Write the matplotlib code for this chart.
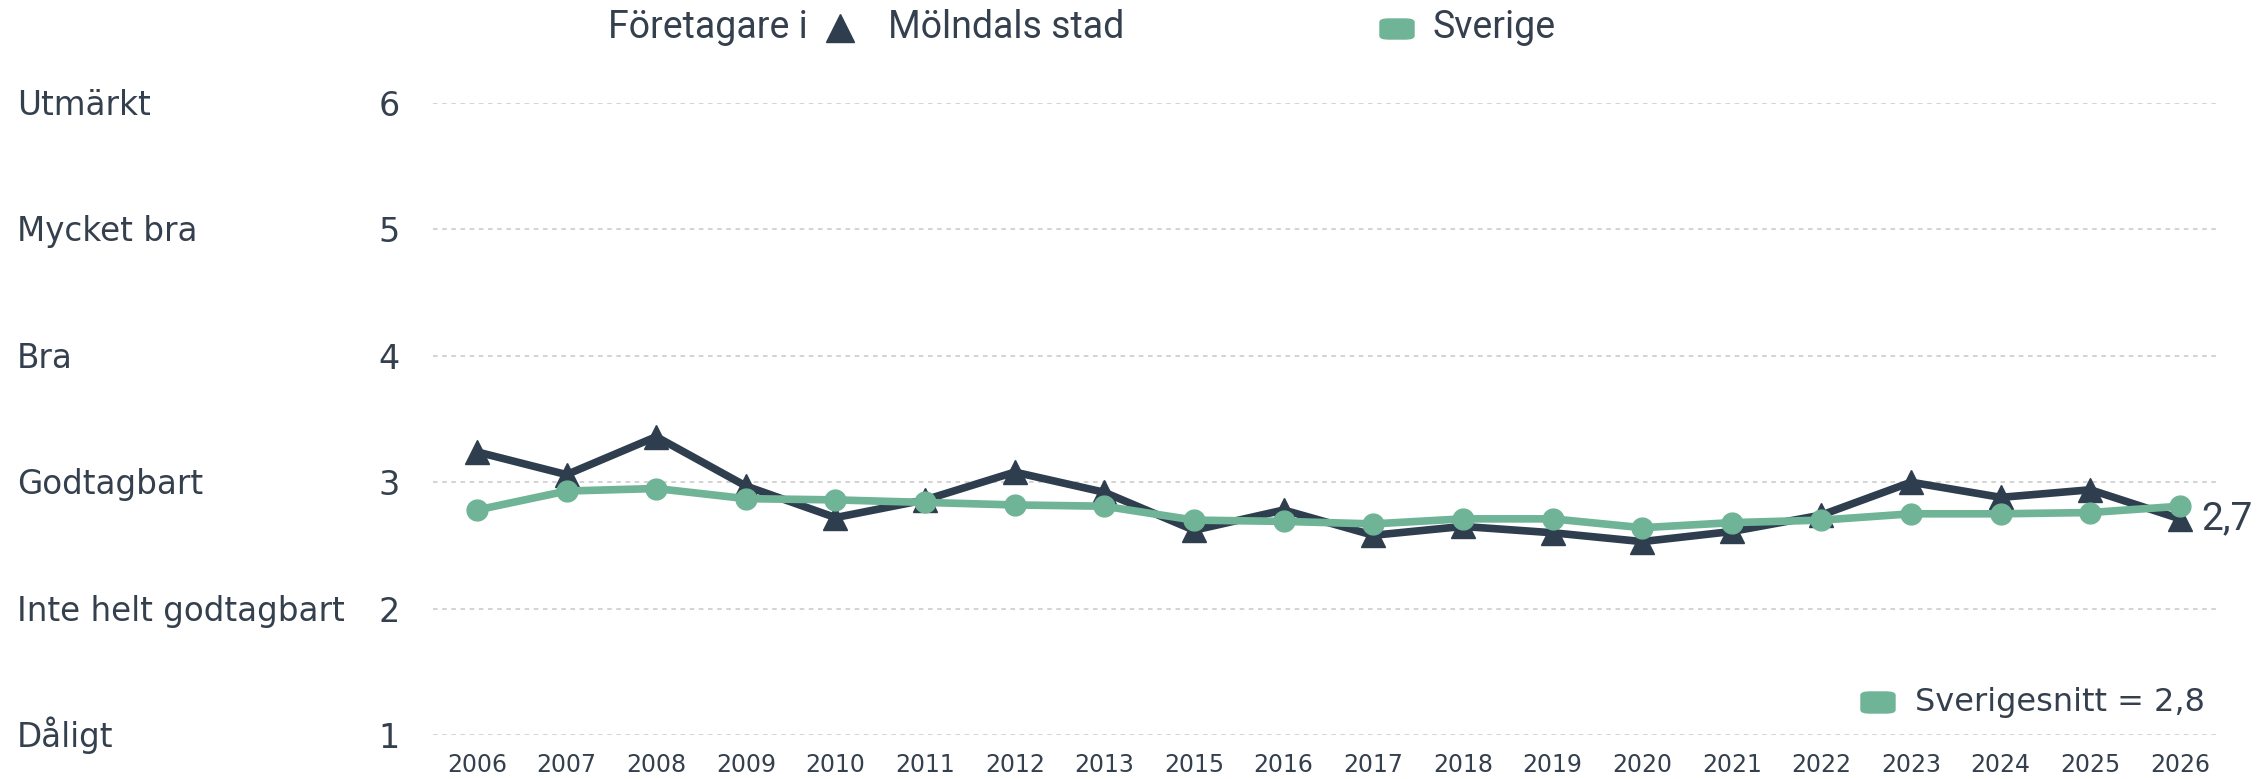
import matplotlib
matplotlib.use("Agg")
from matplotlib import pyplot as plt
from matplotlib import transforms
from matplotlib.patches import FancyBboxPatch
import numpy as np

years = ["2006", "2007", "2008", "2009", "2010", "2011", "2012", "2013", "2015", "2016",
         "2017", "2018", "2019", "2020", "2021", "2022", "2023", "2024", "2025", "2026"]
molndal = [3.24, 3.06, 3.36, 2.97, 2.72, 2.86, 3.08, 2.92, 2.62, 2.78,
           2.58, 2.65, 2.60, 2.53, 2.61, 2.74, 3.00, 2.88, 2.94, 2.71]
sverige = [2.78, 2.93, 2.95, 2.87, 2.86, 2.84, 2.82, 2.81, 2.70, 2.69,
           2.67, 2.71, 2.71, 2.64, 2.68, 2.70, 2.75, 2.75, 2.76, 2.81]
levels = [1, 2, 3, 4, 5, 6]
level_names = ["Dåligt", "Inte helt godtagbart", "Godtagbart", "Bra", "Mycket bra", "Utmärkt"]
last_label = "2,7"
avg_label = "Sverigesnitt = 2,8"

dark = "#2f3e4e"
green = "#6fb496"
txt = "#35404f"

W, H = 2262, 779
fig = plt.figure(figsize=(W / 100, H / 100), dpi=100)
ax = fig.add_axes([433 / W, 1 - 735 / H, (2219 - 433) / W, (735 - 103) / H])

x = np.arange(len(years))
ax.plot(x, molndal, color=dark, lw=5.5, marker="^", ms=17, zorder=3, clip_on=False)
ax.plot(x, sverige, color=green, lw=5.5, marker="o", ms=15, zorder=4, clip_on=False)

ax.set_xlim(-0.49, 19.435)
ax.set_ylim(1, 6)
for v in levels:
    ax.axhline(v, color="#c8c8c8", lw=1.1, ls=(0, (3, 3)), zorder=1)

for s in ax.spines.values():
    s.set_visible(False)

ax.set_xticks(x)
ax.set_xticklabels(years, fontsize=17, color=txt)
ax.set_yticks(levels)
ax.set_yticklabels([str(v) for v in levels], fontsize=24, color=txt)
ax.tick_params(axis="x", length=0, pad=13)
ax.tick_params(axis="y", length=0, pad=24)

# category names on the left, baseline a bit below each gridline
tr = transforms.blended_transform_factory(fig.transFigure, ax.transData)
tr = tr + transforms.ScaledTranslation(0, -12 / 100, fig.dpi_scale_trans)
for v, name in zip(levels, level_names):
    ax.text(17 / W, v, name, transform=tr, fontsize=23.5, color=txt, va="baseline", ha="left")

# value label at the end of the line
ax.annotate(last_label, (x[-1], molndal[-1]), xytext=(15, 0), textcoords="offset points",
            fontsize=28, color=txt, va="center", ha="left", family=["Roboto", "DejaVu Sans"])

# top legend
ly = 1 - 28 / H
fig.text(608 / W, ly, "Företagare i", fontsize=27, color=txt, va="center", ha="left",
         family=["Roboto", "DejaVu Sans"])
fig.lines.append(plt.Line2D([840 / W], [ly], marker="^", ms=20, color=dark, ls="none",
                            transform=fig.transFigure, figure=fig))
fig.text(888 / W, ly, "Mölndals stad", fontsize=27, color=txt, va="center", ha="left",
         family=["Roboto", "DejaVu Sans"])
fig.patches.append(FancyBboxPatch((1380 / W, 1 - 39 / H), 34 / W, 20 / H,
                                  boxstyle="round,pad=0,rounding_size=0.004",
                                  color=green, transform=fig.transFigure, figure=fig))
fig.text(1433 / W, ly, "Sverige", fontsize=27, color=txt, va="center", ha="left",
         family=["Roboto", "DejaVu Sans"])

# bottom-right average legend
by = 1 - 702 / H
fig.patches.append(FancyBboxPatch((1861 / W, 1 - 713 / H), 34 / W, 21 / H,
                                  boxstyle="round,pad=0,rounding_size=0.004",
                                  color=green, transform=fig.transFigure, figure=fig))
fig.text(1915 / W, by, avg_label, fontsize=23, color=txt, va="center", ha="left")

fig.savefig("out.png", dpi=100)
